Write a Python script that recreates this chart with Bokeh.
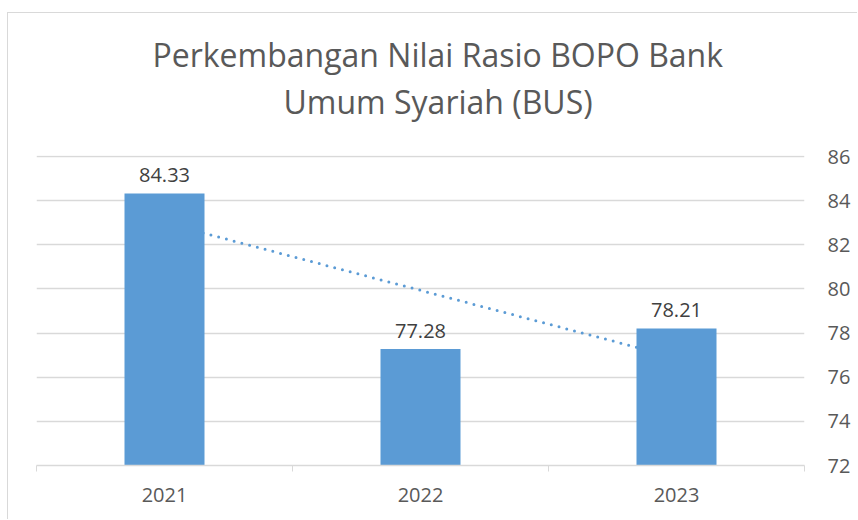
import numpy as np
from bokeh.plotting import figure
from bokeh.layouts import column
from bokeh.models import FixedTicker, Title
from bokeh.core.properties import value
from bokeh.embed import file_html
from bokeh.resources import INLINE

# ---- data ----
years = ["2021", "2022", "2023"]
bopo = [84.33, 77.28, 78.21]
y_ticks = [72, 74, 76, 78, 80, 82, 84, 86]
title_lines = ["Perkembangan Nilai Rasio BOPO Bank", "Umum Syariah (BUS)"]

FONT = "Open Sans"
BAR = "#5B9BD5"
TXT = "#595959"
GRID = "#d9d9d9"

xs = list(range(1, len(years) + 1))

OX, OY = 9, 14  # page offset of the figure inside the bordered chart box
W, H = 858 - OX, 520 - OY

p = figure(width=W, height=H, output_backend="svg", toolbar_location=None,
           x_range=(0.5, len(years) + 0.5), y_range=(y_ticks[0], y_ticks[-1] + 0.05),
           y_axis_location="right", min_border_left=37 - OX, min_border_right=53,
           min_border_top=156 - OY, min_border_bottom=54)
p.outline_line_color = None
p.background_fill_color = "white"
p.border_fill_color = "white"

# title: two lines, the second one nearest to the plot
title_offsets = [116, 247]
title_standoffs = [-62, 66]
for t, off, so in reversed(list(zip(title_lines, title_offsets, title_standoffs))):
    p.add_layout(Title(text=t, align="left", offset=off, standoff=so,
                       text_font=FONT, text_font_size="32px", text_font_style="normal",
                       text_color=TXT, text_line_height=1.0), "above")

# trendline (linear fit of the series), drawn behind the bars
slope, intercept = np.polyfit(xs, bopo, 1)
tx = [xs[0], xs[-1]]
ty = [slope * x + intercept for x in tx]
p.line(tx, ty, line_color=BAR, line_width=3, line_dash="0 8", line_cap="round")

p.vbar(x=xs, top=bopo, bottom=y_ticks[0], width=0.3125, fill_color=BAR, line_color=None)

p.text(x=xs, y=bopo, text=[f"{v:.2f}" for v in bopo], text_align="center",
       text_baseline="alphabetic", y_offset=-18, text_font=value(FONT),
       text_font_size="20px", text_color="#404040")

# x axis
p.xaxis.ticker = FixedTicker(ticks=xs, minor_ticks=[x - 0.5 for x in xs] + [xs[-1] + 0.5])
p.xaxis.major_label_overrides = {x: y for x, y in zip(xs, years)}
p.xaxis.major_tick_line_color = None
p.xaxis.major_tick_out = 0
p.xaxis.major_tick_in = 0
p.xaxis.minor_tick_line_color = GRID
p.xaxis.minor_tick_out = 6
p.xaxis.minor_tick_in = 0
p.xaxis.axis_line_color = GRID
p.xaxis.axis_line_width = 1.5
p.xaxis.major_label_standoff = 16
p.xaxis.major_label_text_font = FONT
p.xaxis.major_label_text_font_size = "20px"
p.xaxis.major_label_text_color = TXT

# y axis (right)
p.yaxis.ticker = FixedTicker(ticks=y_ticks)
p.yaxis.axis_line_color = None
p.yaxis.major_tick_line_color = None
p.yaxis.minor_tick_line_color = None
p.yaxis.major_tick_out = 0
p.yaxis.major_tick_in = 0
p.yaxis.major_label_standoff = 23
p.yaxis.major_label_text_font = FONT
p.yaxis.major_label_text_font_size = "20px"
p.yaxis.major_label_text_color = TXT

p.xgrid.grid_line_color = None
p.ygrid.grid_line_color = GRID
p.ygrid.grid_line_width = 1.5

layout = column(p, styles={"border-left": "1.5px solid #d9d9d9",
                           "border-top": "1.5px solid #d9d9d9",
                           "margin-left": "7px", "margin-top": "12px"})

open("out.html", "w").write(file_html(layout, INLINE))
